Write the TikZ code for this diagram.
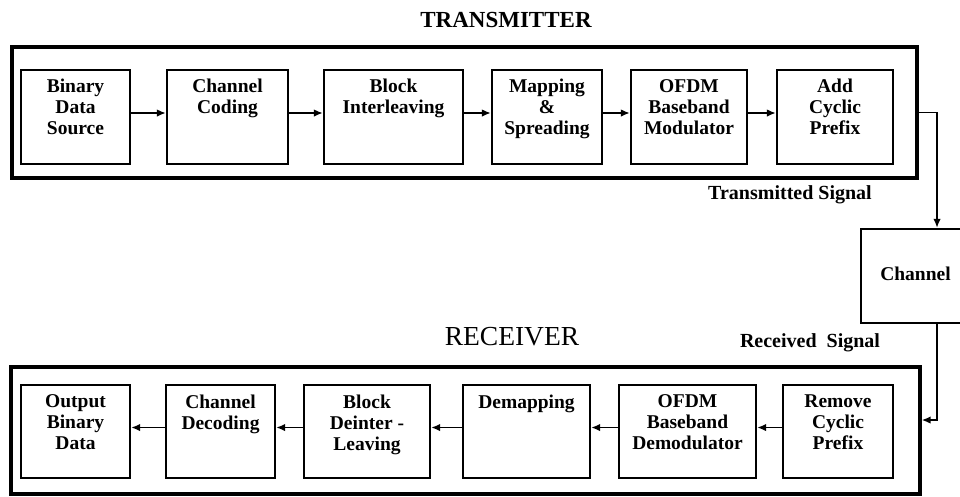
\documentclass[tikz,border=0pt]{standalone}
\usepackage{fontspec}
\setmainfont{Liberation Serif}
\usetikzlibrary{arrows.meta}
\begin{document}
\begin{tikzpicture}[x=1pt,y=-1pt,
  outer/.style={draw, line width=3.2pt, inner sep=0pt},
  blk/.style={draw, line width=2.2pt, inner sep=0pt},
  lbl/.style={font=\bfseries\fontsize{19.5}{21}\selectfont, align=center, inner sep=0pt, anchor=north},
  sig/.style={font=\bfseries\fontsize{20}{22}\selectfont, inner sep=0pt},
  arr/.style={line width=1.8pt, -{Latex[length=9pt,width=7.5pt]}},
  ]
\fill[white] (0,0) rectangle (960,496);
\useasboundingbox (0,0) rectangle (960,496);

% titles
\node[font=\bfseries\fontsize{23}{26}\selectfont, inner sep=0pt] (ttitle) at (506,20) {TRANSMITTER};
\node[font=\fontsize{27.5}{30}\selectfont, inner sep=0pt] (rtitle) at (512,337) {RECEIVER};

% outer boxes
\node[outer, minimum width=905pt, minimum height=131pt] (tx) at (464.5,112.5) {};
\node[outer, minimum width=909pt, minimum height=127pt] (rx) at (465.5,430.5) {};

% transmitter blocks
\node[blk, minimum width=109pt, minimum height=94pt] (t1) at (75.5,117) {};
\node[blk, minimum width=121pt, minimum height=94pt] (t2) at (227.5,117) {};
\node[blk, minimum width=139pt, minimum height=94pt] (t3) at (393.5,117) {};
\node[blk, minimum width=110pt, minimum height=94pt] (t4) at (547,117) {};
\node[blk, minimum width=116pt, minimum height=94pt] (t5) at (689,117) {};
\node[blk, minimum width=116pt, minimum height=94pt] (t6) at (835,117) {};

\node[lbl] (t1t) at ([yshift=-10pt]t1.north) {Binary\\Data\\Source};
\node[lbl] (t2t) at ([yshift=-10pt]t2.north) {Channel\\Coding};
\node[lbl] (t3t) at ([yshift=-10pt]t3.north) {Block\\Interleaving};
\node[lbl] (t4t) at ([yshift=-10pt]t4.north) {Mapping\\\&\\Spreading};
\node[lbl] (t5t) at ([yshift=-10pt]t5.north) {OFDM\\Baseband\\Modulator};
\node[lbl] (t6t) at ([yshift=-10pt]t6.north) {Add\\Cyclic\\Prefix};

\draw[arr] ([yshift=4pt]t1.east) -- ([yshift=4pt]t2.west);
\draw[arr] ([yshift=4pt]t2.east) -- ([yshift=4pt]t3.west);
\draw[arr] ([yshift=4pt]t3.east) -- ([yshift=4pt]t4.west);
\draw[arr] ([yshift=4pt]t4.east) -- ([yshift=4pt]t5.west);
\draw[arr] ([yshift=4pt]t5.east) -- ([yshift=4pt]t6.west);

% receiver blocks
\node[blk, minimum width=109pt, minimum height=93pt] (r1) at (75.5,431.5) {};
\node[blk, minimum width=109pt, minimum height=93pt] (r2) at (220.5,431.5) {};
\node[blk, minimum width=126pt, minimum height=93pt] (r3) at (367,431.5) {};
\node[blk, minimum width=127pt, minimum height=93pt] (r4) at (526.5,431.5) {};
\node[blk, minimum width=137pt, minimum height=93pt] (r5) at (687.5,431.5) {};
\node[blk, minimum width=110pt, minimum height=93pt] (r6) at (838,431.5) {};

\node[lbl] (r1t) at ([yshift=-10.5pt]r1.north) {Output\\Binary\\Data};
\node[lbl] (r2t) at ([yshift=-10.5pt]r2.north) {Channel\\Decoding};
\node[lbl] (r3t) at ([yshift=-10.5pt]r3.north) {Block\\Deinter -\\Leaving};
\node[lbl] (r4t) at ([yshift=-10.5pt]r4.north) {Demapping};
\node[lbl] (r5t) at ([yshift=-10.5pt]r5.north) {OFDM\\Baseband\\Demodulator};
\node[lbl] (r6t) at ([yshift=-10.5pt]r6.north) {Remove\\Cyclic\\Prefix};

\draw[arr] ([yshift=4pt]r6.west) -- ([yshift=4pt]r5.east);
\draw[arr] ([yshift=4pt]r5.west) -- ([yshift=4pt]r4.east);
\draw[arr] ([yshift=4pt]r4.west) -- ([yshift=4pt]r3.east);
\draw[arr] ([yshift=4pt]r3.west) -- ([yshift=4pt]r2.east);
\draw[arr] ([yshift=4pt]r2.west) -- ([yshift=4pt]r1.east);

% channel
\node[blk, minimum width=109pt, minimum height=94pt, font=\bfseries\fontsize{19.5}{21}\selectfont] (ch) at (915.5,276) {\raisebox{4pt}{Channel}};
\coordinate (tc) at (937,0);

\draw[arr] (tx.east) -| (ch.north -| tc);
\draw[arr] (ch.south -| tc) |- ([yshift=10.5pt]rx.east);

% signal labels
\node[sig] (tsig) at (790,195) {Transmitted Signal};
\node[sig] (rsig) at (810,343) {Received\ \ Signal};
\end{tikzpicture}
\end{document}
